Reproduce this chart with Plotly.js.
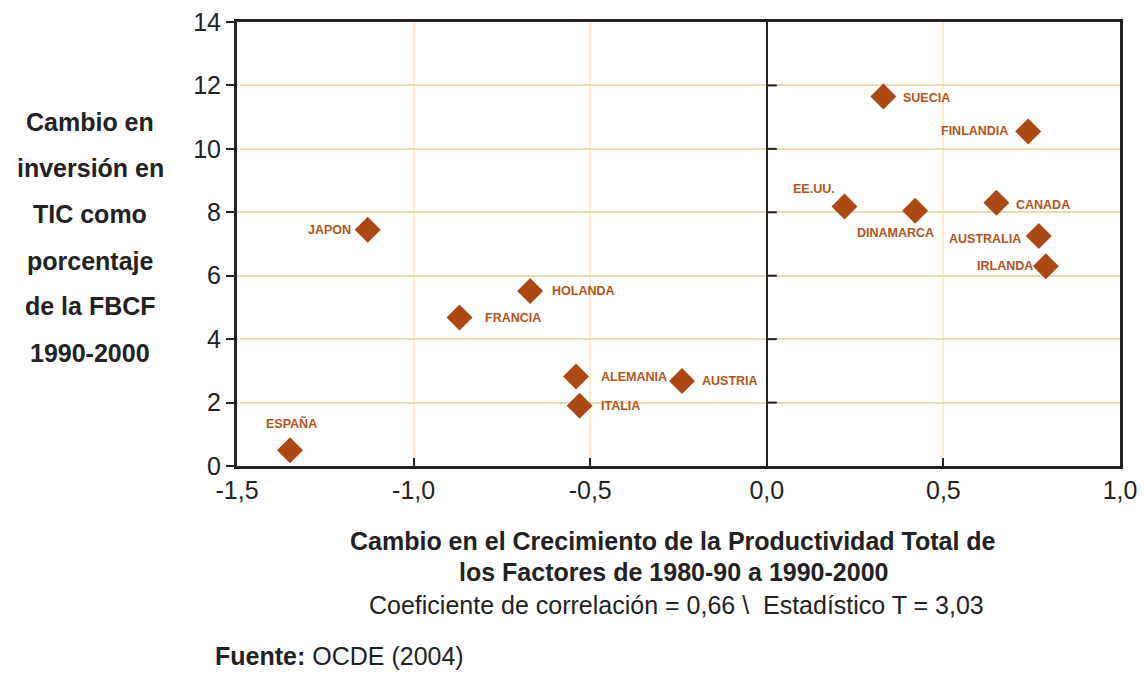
<!DOCTYPE html>
<html>
<head>
<meta charset="utf-8">
<script src="https://cdn.plot.ly/plotly-3.0.1.min.js"></script>
<style>html,body{margin:0;padding:0;background:#fff;}#chart{width:1144px;height:673px;}</style>
</head>
<body>
<div id="chart"></div>
<script>
const countries = ["JAPON","HOLANDA","FRANCIA","ALEMANIA","ITALIA","AUSTRIA","ESPAÑA","SUECIA","FINLANDIA","EE.UU.","DINAMARCA","CANADA","AUSTRALIA","IRLANDA"];
const ptfChange = [-1.13,-0.67,-0.87,-0.54,-0.53,-0.24,-1.35,0.33,0.74,0.22,0.42,0.65,0.77,0.79];
const ticInvest = [7.45,5.52,4.68,2.82,1.9,2.68,0.5,11.65,10.55,8.18,8.05,8.3,7.25,6.3];
const xTicks = [-1.5,-1.0,-0.5,0.0,0.5,1.0];
const xTickText = ["-1,5","-1,0","-0,5","0,0","0,5","1,0"];
const yTicks = [0,2,4,6,8,10,12,14];
const yTitleLines = ["Cambio en","inversión en","TIC como","porcentaje","de la FBCF","1990-2000"];
const xTitleLines = ["Cambio en el Crecimiento de la Productividad Total de","los Factores de 1980-90 a 1990-2000"];
const statsNote = "Coeficiente de correlación = 0,66 \\  Estadístico T = 3,03";

// label placement (anchor, pixel offsets)
const labelAnchor = ["right","left","left","left","left","left","center","left","right","right","center","left","right","right"];
const labelDX = [-15,20,23,23,19,18,2,18,-18,-8,-20,18,-16,-11];
const labelDY = [0,0,0,0,0,0,27,-1,0,18,-22,-2,-3,0];

const FONT = 'Arial, "Liberation Sans", sans-serif';
const trace = {
  type: 'scatter', mode: 'markers',
  x: ptfChange, y: ticInvest,
  marker: {symbol: 'diamond', size: 20, color: '#AC4813'},
  cliponaxis: false, hoverinfo: 'none'
};

const ann = [];
countries.forEach((c,i) => ann.push({
  xref:'x', yref:'y', x: ptfChange[i], y: ticInvest[i], text:'<b>'+c+'</b>', showarrow:false,
  xanchor: labelAnchor[i], yanchor:'middle', xshift: labelDX[i], yshift: labelDY[i],
  font:{family:FONT, size:12.5, color:'#B3541C'}
}));
const yTitleY = [122,168,214,261,306,353];
yTitleLines.forEach((t,i) => ann.push({
  xref:'paper', yref:'paper', x: (90-237)/883, y: 1-(yTitleY[i]-22)/444,
  text:'<b>'+t+'</b>', showarrow:false, xanchor:'center', yanchor:'middle',
  font:{family:FONT, size:25, color:'#222'}
}));
const xTitleY = [541,572];
xTitleLines.forEach((t,i) => ann.push({
  xref:'paper', yref:'paper', x:(673-237)/883, y: 1-(xTitleY[i]-22)/444,
  text:'<b>'+t+'</b>', showarrow:false, xanchor:'center', yanchor:'middle',
  font:{family:FONT, size:25, color:'#222'}
}));
ann.push({xref:'paper', yref:'paper', x:(676-237)/883, y:1-(605-22)/444, text:statsNote, showarrow:false,
  xanchor:'center', yanchor:'middle', font:{family:FONT, size:25, color:'#222'}});
ann.push({xref:'paper', yref:'paper', x:(213-237)/883, y:1-(656-22)/444, text:'<b>Fuente:</b> OCDE (2004)', showarrow:false,
  xanchor:'left', yanchor:'middle', font:{family:FONT, size:25, color:'#222'}});

// small ticks on the x=0 line
const shapes = yTicks.slice(1,-1).map(v => ({
  type:'line', xref:'x', yref:'y', xsizemode:'pixel', xanchor:0, x0:0, x1:10, y0:v, y1:v,
  line:{color:'#222', width:2}
}));

const layout = {
  width:1144, height:673,
  margin:{l:237, r:24, t:22, b:207},
  paper_bgcolor:'#fff', plot_bgcolor:'#fff',
  showlegend:false,
  font:{family:FONT, color:'#222'},
  xaxis:{range:[-1.5,1.0], tickvals:xTicks, ticktext:xTickText, showgrid:true, gridcolor:'#FFEFC6', gridwidth:2,
    zeroline:true, zerolinecolor:'#222', zerolinewidth:2,
    showline:true, linecolor:'#222', linewidth:3, mirror:true,
    ticks:'inside', ticklen:8, tickwidth:2, tickcolor:'#222',
    tickfont:{size:25, color:'#222'}},
  yaxis:{range:[0,14], tickvals:yTicks, showgrid:true, gridcolor:'#E9DBB2', gridwidth:2,
    zeroline:false, showline:true, linecolor:'#222', linewidth:3, mirror:true,
    ticks:'outside', ticklen:8, tickwidth:2, tickcolor:'#222',
    tickfont:{size:25, color:'#222'}},
  annotations: ann,
  shapes: shapes
};
Plotly.newPlot('chart',[trace],layout,{staticPlot:true});
</script>
</body>
</html>
